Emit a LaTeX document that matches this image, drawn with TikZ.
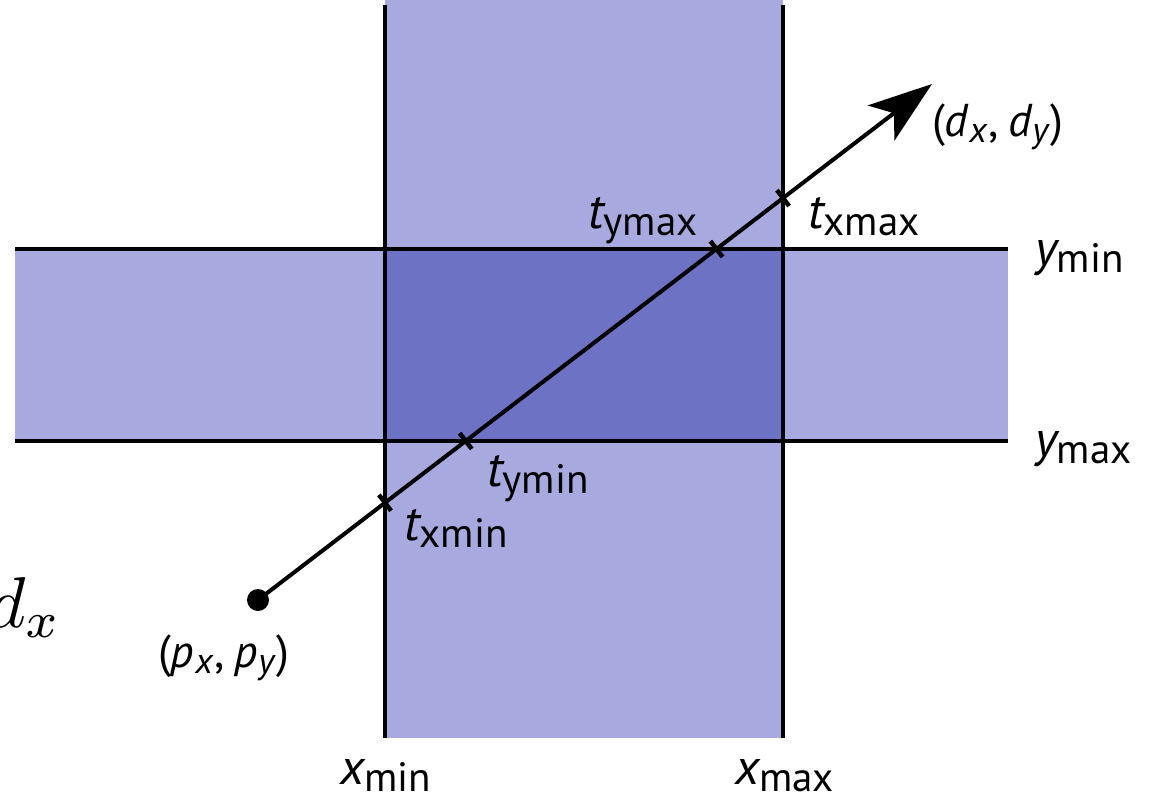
\documentclass[tikz,border=0pt]{standalone}
\usepackage{fontspec}
\setmainfont{PT Sans}
\usetikzlibrary{arrows.meta,calc}
\definecolor{bandlight}{RGB}{168,169,222}
\definecolor{banddark}{RGB}{110,114,196}
\newcommand\lbl[2]{{\fontsize{50}{54}\selectfont\itshape #1}\raisebox{-7pt}{\fontsize{41}{44}\selectfont #2}}
\newcommand\slbl[2]{{\itshape #1}\kern1pt\raisebox{-6pt}{\fontsize{36}{38}\selectfont\itshape #2}}
\begin{document}
\begin{tikzpicture}[x=1pt,y=-1pt,
  bandline/.style={line width=4pt,black},
  tick/.style={line width=4.5pt,black},
  lab/.style={anchor=base west,inner sep=0pt,outer sep=0pt}]
\useasboundingbox (0,0) rectangle (1151,801);
% bands
\fill[bandlight] (385,0) rectangle (783,738);
\fill[bandlight] (15,249) rectangle (1008,441);
\fill[banddark] (385,249) rectangle (783,441);
% band lines
\coordinate (xa1) at (385,5);  \coordinate (xa2) at (385,738);
\coordinate (xb1) at (783,5);  \coordinate (xb2) at (783,738);
\coordinate (ya1) at (15,249); \coordinate (ya2) at (1008,249);
\coordinate (yb1) at (15,441); \coordinate (yb2) at (1008,441);
\draw[bandline] (xa1) -- (xa2);
\draw[bandline] (xb1) -- (xb2);
\draw[bandline] (ya1) -- (ya2);
\draw[bandline] (yb1) -- (yb2);
% ray
\coordinate (P) at (258,600);
\coordinate (T) at (932,84);
\draw[line width=4pt,-{Stealth[length=64pt,width=44pt,inset=16pt]}] (P) -- (T);
\fill (P) circle (11pt);
% intersections
\coordinate (txmin) at (intersection of P--T and xa1--xa2);
\coordinate (tymin) at (intersection of P--T and yb1--yb2);
\coordinate (tymax) at (intersection of P--T and ya1--ya2);
\coordinate (txmax) at (intersection of P--T and xb1--xb2);
\foreach \c in {txmin,tymin,tymax,txmax}{
  \draw[tick] ($(\c)!10pt!90:(T)$) -- ($(\c)!10pt!-90:(T)$);
}
% labels
\node[lab] (Ltymax) at (588,228) {\lbl{t}{ymax}};
\node[lab] (Ltxmax) at (808,228) {\lbl{t}{xmax}};
\node[lab] (Ltymin) at (487,486) {\lbl{t}{ymin}};
\node[lab] (Ltxmin) at (404,540) {\lbl{t}{xmin}};
\node[lab] (Lymin) at (1035,265) {\lbl{y}{min}};
\node[lab] (Lymax) at (1035,456) {\lbl{y}{max}};
\node[lab] (Lxmin) at (340,784) {\lbl{x}{min}};
\node[lab] (Lxmax) at (735,784) {\lbl{x}{max}};
\node[lab] (Ld) at (932,136) {\fontsize{46}{48}\selectfont(\slbl{d}{x}\kern2pt,\kern9pt\slbl{d}{y}\kern2pt)};
\node[lab] (Lp) at (158,667) {\fontsize{46}{48}\selectfont(\slbl{p}{x}\kern2pt,\kern9pt\slbl{p}{y}\kern2pt)};
\node[anchor=base east,inner sep=0pt] (Ldx) at (62,627) {\scalebox{7.2}{$d_x$}};
\end{tikzpicture}
\end{document}
